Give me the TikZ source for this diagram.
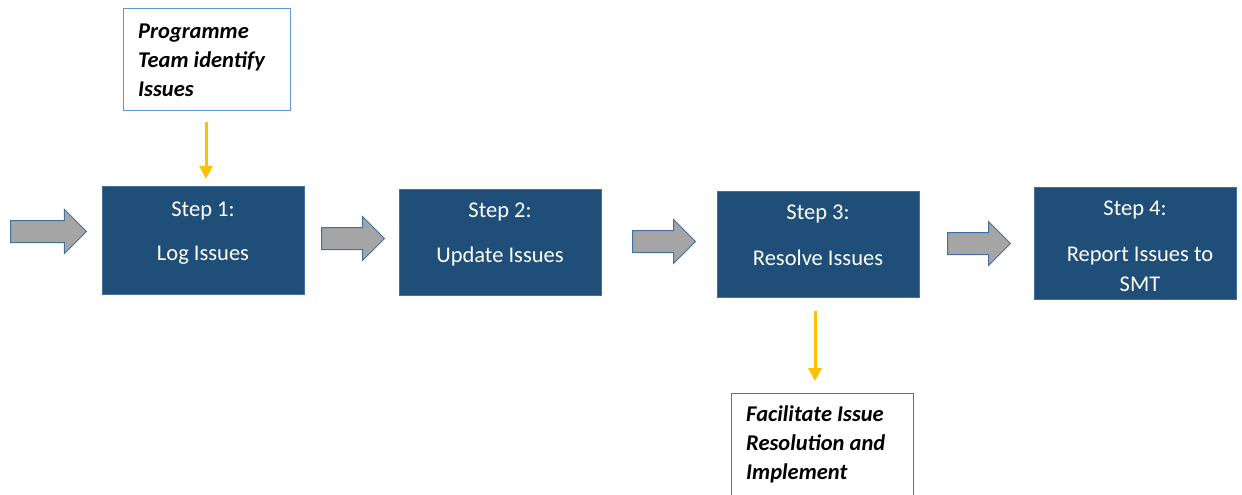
\documentclass[tikz,border=0pt]{standalone}
\usepackage{fontspec}
\setmainfont{Carlito}
\usetikzlibrary{arrows.meta,shapes.arrows,calc}
\definecolor{stepfill}{RGB}{31,78,121}
\definecolor{stepdraw}{RGB}{65,113,156}
\definecolor{notedraw}{RGB}{91,155,213}
\definecolor{notedrawb}{RGB}{68,114,196}
\definecolor{arrgray}{RGB}{165,165,165}
\definecolor{arryellow}{RGB}{255,192,0}
\tikzset{
  stepbox/.style={draw=stepdraw, line width=1pt, fill=stepfill, minimum width=202pt, minimum height=108pt, inner sep=0pt, anchor=north west},
  steptxt/.style={text=white, font=\fontsize{22.5}{28}\selectfont, inner sep=0pt, align=center},
  notebox/.style={draw=notedraw, line width=1pt, fill=white, inner sep=0pt, anchor=north west},
  notetxt/.style={font=\fontsize{22.5}{29}\selectfont\bfseries\itshape, inner sep=0pt, anchor=west, align=left},
  grayarrow/.style={single arrow, draw=stepdraw, line width=1pt, fill=arrgray, minimum height=75pt, minimum width=43pt, single arrow head extend=11pt, inner xsep=0pt, inner ysep=10.5pt, text height=0pt, text depth=0pt, anchor=tail},
  yarrow/.style={draw=arryellow, line width=3pt, -{Triangle[width=13pt,length=13pt]}}
}
\begin{document}
\begin{tikzpicture}[x=1pt,y=-1pt]
\useasboundingbox (0,0) rectangle (1242,495);
\begin{scope}
\clip (0,0) rectangle (1242,495);
% step boxes
\node[stepbox] (b1) at (102,186) {};
\node[stepbox, minimum height=106pt] (b2) at (399,189) {};
\node[stepbox, minimum height=106pt] (b3) at (717,191) {};
\node[stepbox, minimum height=112pt] (b4) at (1034,187) {};
\node[steptxt] (t1a) at (203,211) {Step 1:};
\node[steptxt] (t1b) at (203,255) {Log Issues};
\node[steptxt] (t2a) at (500,212) {Step 2:};
\node[steptxt] (t2b) at (500,256) {Update Issues};
\node[steptxt] (t3a) at (818,214) {Step 3:};
\node[steptxt] (t3b) at (818,258) {Resolve Issues};
\node[steptxt] (t4a) at (1135,210) {Step 4:};
\node[steptxt] (t4b) at (1140,256) {Report Issues to};
\node[steptxt] (t4c) at (1140,284) {SMT};
% note boxes
\node[notebox, minimum width=167pt, minimum height=102pt] (tb) at (123,8) {};
\node[notetxt] (tbt) at (138,60) {Programme\\Team identify\\Issues};
\node[notebox, draw=notedrawb, minimum width=182pt, minimum height=120pt] (bb) at (731,393) {};
\node[notetxt] (bbt) at (746,444) {Facilitate Issue\\Resolution and\\Implement};
% gray block arrows
\node[grayarrow, minimum height=76pt] (a0) at (10,231.5) {};
\node[grayarrow, minimum height=63pt] (a1) at (321,238.5) {};
\node[grayarrow, minimum height=63pt] (a2) at (632,241.5) {};
\node[grayarrow, minimum height=63pt] (a3) at (947,243.5) {};
% yellow arrows
\coordinate (y1) at (206,110);
\coordinate (y2) at (815,297);
\draw[yarrow, shorten <=12pt, shorten >=7pt] (y1) -- (y1 |- b1.north);
\draw[yarrow, shorten <=14pt, shorten >=12pt] (y2) -- (y2 |- bb.north);
\end{scope}
\end{tikzpicture}
\end{document}
